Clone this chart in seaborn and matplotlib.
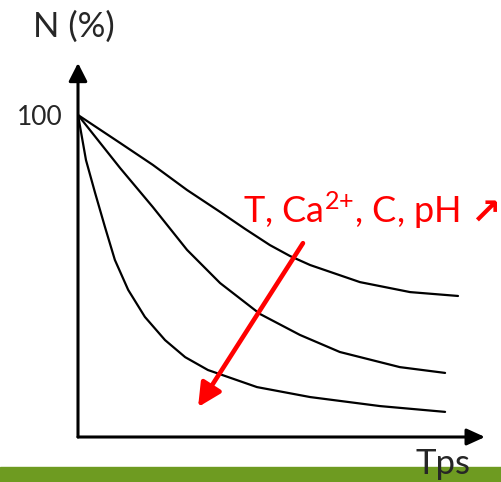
import pandas as pd
import matplotlib
matplotlib.use("Agg")
import matplotlib.pyplot as plt
import seaborn as sns

# Courbes (temps arbitraire, N en %)
t_haut = [0, 1.11, 1.97, 2.87, 3.74, 4.40, 5.05, 5.58, 6.11, 7.42, 8.74, 10.0]
n_haut = [100, 91.3, 84.5, 76.7, 69.9, 64.6, 59.6, 56.2, 53.4, 48.1, 45.0, 43.8]

t_milieu = [0, 1.11, 1.97, 2.87, 3.74, 4.79, 5.84, 6.89, 8.47, 9.66]
n_milieu = [100, 83.5, 71.4, 58.1, 47.8, 38.2, 31.7, 26.4, 21.7, 19.9]

t_bas = [0, 0.21, 0.45, 0.71, 0.97, 1.32, 1.76, 2.29, 2.82, 3.42, 4.71, 6.11, 7.95, 9.66]
n_bas = [100, 86.0, 75.8, 65.2, 55.0, 45.7, 37.3, 30.1, 24.8, 20.8, 15.5, 12.4, 9.6, 7.8]

graduations = [100]
etiquettes = ["100"]

# fleche rouge (debut -> fin)
fleche_t = [5.92, 3.16]
fleche_n = [60.2, 9.3]

df = pd.concat([
    pd.DataFrame({"t": t_haut, "N": n_haut, "courbe": "haut"}),
    pd.DataFrame({"t": t_milieu, "N": n_milieu, "courbe": "milieu"}),
    pd.DataFrame({"t": t_bas, "N": n_bas, "courbe": "bas"}),
])

sns.set_style("white")
plt.rcParams["font.family"] = ["Lato", "DejaVu Sans"]
plt.rcParams["mathtext.fontset"] = "custom"
plt.rcParams["mathtext.rm"] = "Lato"
plt.rcParams["mathtext.it"] = "Lato"

W, H = 501, 482
fig = plt.figure(figsize=(W / 100, H / 100), dpi=100)
ax = fig.add_axes([78 / W, (H - 437) / H, (485 - 78) / W, (437 - 63) / H])
ax.patch.set_alpha(0)

sns.lineplot(data=df, x="t", y="N", units="courbe", estimator=None, sort=False,
             color="black", linewidth=1.6, ax=ax)

ax.set_xlim(0, (485 - 78) / 38)
ax.set_ylim(0, (437 - 63) / 3.22)

for s in ax.spines.values():
    s.set_visible(False)

# axes avec fleches
ax.annotate("", xy=(1, 0), xytext=(0, 0), xycoords="axes fraction",
            arrowprops=dict(arrowstyle="-|>,head_length=0.55,head_width=0.25",
                            mutation_scale=20, lw=2.2, color="black",
                            shrinkA=0, shrinkB=0))
ax.annotate("", xy=(0, 1), xytext=(0, 0), xycoords="axes fraction",
            arrowprops=dict(arrowstyle="-|>,head_length=0.55,head_width=0.28",
                            mutation_scale=20, lw=2.2, color="black",
                            shrinkA=0, shrinkB=0))

ax.set_xticks([])
ax.set_yticks(graduations)
ax.set_yticklabels(etiquettes, fontsize=19)
ax.tick_params(axis="y", direction="out", length=4, width=1.5, pad=7, color="black")

ax.set_xlabel("Tps", fontsize=25, ha="center", va="baseline")
ax.xaxis.set_label_coords((443 - 78) / 407, (437 - 474) / 374)
ax.set_ylabel("N (%)", fontsize=25, rotation=0, ha="center", va="center")
ax.yaxis.set_label_coords((74 - 78) / 407, (437 - 27) / 374)

# fleche rouge et texte
ax.annotate("", xy=(fleche_t[1], fleche_n[1]), xytext=(fleche_t[0], fleche_n[0]),
            arrowprops=dict(arrowstyle="-|>,head_length=0.7,head_width=0.35",
                            mutation_scale=20, lw=3.3, color="#ff0000",
                            shrinkA=0, shrinkB=0))
ax.text((243 - 78) / 38, (437 - 223) / 3.22, r"T, Ca$^{2{+}}$, C, pH",
        color="#ff0000", fontsize=26, ha="left", va="baseline")
fig.text(500 / W, (H - 225) / H, "↗", family=["DejaVu Sans"],
         color="#ff0000", fontsize=26, fontweight="bold", ha="right", va="baseline")

# bandeau vert
fig.patches.append(plt.Rectangle((0, 0), 1, 15 / H, transform=fig.transFigure,
                                 color="#6e9b21", zorder=0))
ax.set_zorder(1)

fig.savefig("out.png", dpi=100)
